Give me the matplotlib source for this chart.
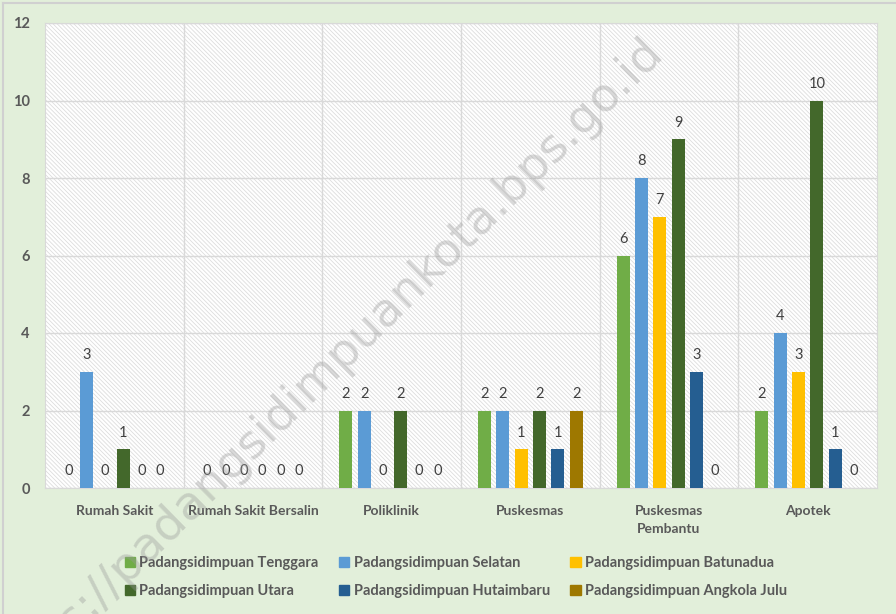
import matplotlib
matplotlib.use("Agg")
import matplotlib.pyplot as plt
import numpy as np
from matplotlib.patches import Rectangle
from matplotlib.lines import Line2D

categories = ["Rumah Sakit", "Rumah Sakit Bersalin", "Poliklinik", "Puskesmas",
              "Puskesmas\nPembantu", "Apotek"]
series_names = ["Padangsidimpuan Tenggara", "Padangsidimpuan Selatan",
                "Padangsidimpuan Batunadua", "Padangsidimpuan Utara",
                "Padangsidimpuan Hutaimbaru", "Padangsidimpuan Angkola Julu"]
tenggara = [0, 0, 2, 2, 6, 2]
selatan = [3, 0, 2, 2, 8, 4]
batunadua = [0, 0, 0, 1, 7, 3]
utara = [1, 0, 2, 2, 9, 10]
hutaimbaru = [0, 0, 0, 1, 3, 1]
angkola_julu = [0, 0, 0, 2, 0, 0]
series_values = [tenggara, selatan, batunadua, utara, hutaimbaru, angkola_julu]
colors = ["#70AD47", "#5B9BD5", "#FFC000", "#43682B", "#255E91", "#9E7800"]
yticks = [0, 2, 4, 6, 8, 10, 12]

plt.rcParams['font.family'] = ['Lato', 'DejaVu Sans']
plt.rcParams['hatch.linewidth'] = 0.6

fig = plt.figure(figsize=(8.96, 6.14), dpi=100)
fig.patch.set_facecolor("#E2EFDA")
ax = fig.add_axes([45/896, 1-488/614, (877-45)/896, (488-23)/614])
ax.set_facecolor("white")

# hatched background
hatch_rect = Rectangle((0, 0), 1, 1, transform=ax.transAxes, facecolor="none",
                       edgecolor="#DDDDDD", hatch="\\" * 8, linewidth=0, zorder=0.5)
ax.add_patch(hatch_rect)

n = len(series_names)
x = np.arange(len(categories))
step = 0.132
width = 0.094
for i, (name, vals, c) in enumerate(zip(series_names, series_values, colors)):
    pos = x + (i - (n - 1) / 2) * step
    ax.bar(pos, vals, width=width, color=c, label=name, zorder=3)
    for p, v in zip(pos, vals):
        ax.text(p, v + 0.25, str(v), ha="center", va="bottom", fontsize=10.5,
                color="#404040", zorder=4)

ax.set_xlim(-0.5, len(categories) - 0.5)
ax.set_ylim(0, 12)
ax.set_yticks(yticks)
ax.set_yticklabels([str(t) for t in yticks], fontsize=10.5, fontweight="bold", color="#595959")
ax.set_xticks(x)
ax.set_xticklabels(categories, fontsize=10, fontweight="bold", color="#595959",
                   linespacing=1.6)
ax.tick_params(axis="both", length=0)
ax.tick_params(axis="x", pad=12)
ax.tick_params(axis="y", pad=11)
ax.yaxis.grid(True, color="#D9D9D9", linewidth=1, zorder=1)
for b in np.arange(-0.5, len(categories), 1.0)[1:-1]:
    ax.axvline(b, color="#D9D9D9", linewidth=1, zorder=1)
ax.set_axisbelow(True)
for s in ["top", "right", "left", "bottom"]:
    ax.spines[s].set_color("#D9D9D9")

# watermark
fig.text(326/896, 1-369/614, "https://padangsidimpuankota.bps.go.id", fontsize=34,
         family="DejaVu Sans", color="#9A9A9A", alpha=0.38, rotation=44.5,
         ha="center", va="center", zorder=10)

handles = [Rectangle((0, 0), 1, 1, color=c) for c in colors]
order = [0, 3, 1, 4, 2, 5]
leg = fig.legend([handles[i] for i in order], [series_names[i] for i in order],
                 loc="center", ncol=3,
                 bbox_to_anchor=(456/896, 1-577/614), frameon=False,
                 fontsize=10.5, handlelength=0.7, handleheight=0.7,
                 handletextpad=0.3, columnspacing=1.4, labelspacing=1.0)
for t in leg.get_texts():
    t.set_color("#595959")
    t.set_fontweight("bold")

# figure border (left/top)
fig.add_artist(Line2D([3/896, 3/896], [0, 1-3/614], color="#D0D0D0", linewidth=1.5))
fig.add_artist(Line2D([3/896, 1], [1-3/614, 1-3/614], color="#D0D0D0", linewidth=1.5))

fig.savefig("out.png", dpi=100, facecolor=fig.get_facecolor())
